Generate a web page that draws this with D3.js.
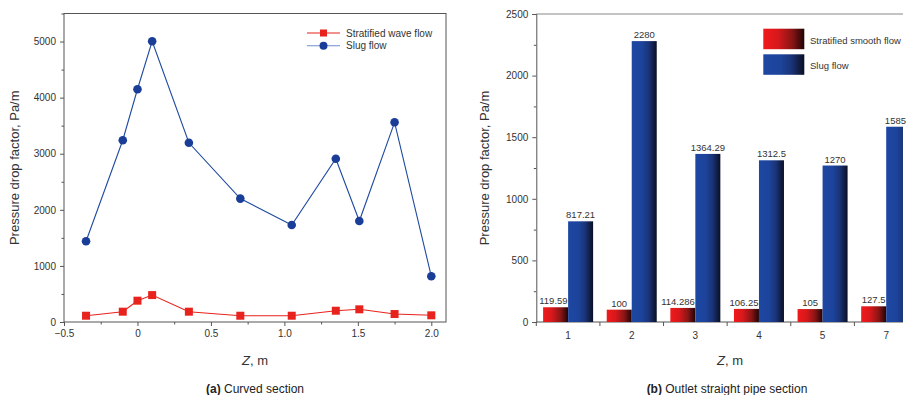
<!DOCTYPE html>
<html>
<head>
<meta charset="utf-8">
<script src="https://cdn.jsdelivr.net/npm/d3@7/dist/d3.min.js"></script>
<style>
  html, body { margin: 0; padding: 0; background: #fff; }
  svg { display: block; font-family: "Liberation Sans", Arial, sans-serif; }
</style>
</head>
<body>
<svg id="fig" width="907" height="395"></svg>
<script>
// (a) Curved section — pressure drop factor along Z
const zCurved = [-0.35, -0.1, 0.0, 0.1, 0.35, 0.7, 1.05, 1.35, 1.51, 1.75, 2.0];
const stratifiedWave = [112, 184, 380, 480, 184, 112, 112, 201, 226, 142, 119];
const slugCurved = [1440, 3240, 4150, 5005, 3195, 2200, 1730, 2910, 1800, 3560, 815];
const curvedXTicks = [-0.5, 0, 0.5, 1.0, 1.5, 2.0];
const curvedXTickLabels = ["\u22120.5", "0", "0.5", "1.0", "1.5", "2.0"];
const curvedYTicks = [0, 1000, 2000, 3000, 4000, 5000];

// (b) Outlet straight pipe section — grouped bars
const outletZ = ["1", "2", "3", "4", "5", "7"];
const stratifiedSmooth = [119.59, 100, 114.286, 106.25, 105, 127.5];
const slugOutlet = [817.21, 2280, 1364.29, 1312.5, 1270, 1585];
const outletYTicks = [0, 500, 1000, 1500, 2000, 2500];

const svg = d3.select("#fig");
const textColor = "#333";
const axisColor = "#555";
const red = "#e8231e";
const blue = "#1f4aa0";

const defs = svg.append("defs");
function hGradient(id, stops) {
  const g = defs.append("linearGradient").attr("id", id)
    .attr("x1", "0%").attr("x2", "100%").attr("y1", "0%").attr("y2", "0%");
  stops.forEach(s => g.append("stop").attr("offset", s[0]).attr("stop-color", s[1]));
}
hGradient("gradRed", [["0%", "#f01a1c"], ["35%", "#d8181b"], ["70%", "#8a1515"], ["100%", "#200405"]]);
hGradient("gradBlue", [["0%", "#1d47a2"], ["40%", "#1d449c"], ["68%", "#1a3478"], ["100%", "#0a0f24"]]);
defs.append("clipPath").attr("id", "clipRight")
  .append("rect").attr("x", 0).attr("y", 0).attr("width", 903).attr("height", 395);

function styleAxis(g) {
  g.selectAll("path, line").attr("stroke", axisColor).attr("stroke-width", 1);
  g.selectAll("text").attr("fill", textColor).attr("font-size", "10px")
    .attr("font-family", "'Liberation Sans', Arial, sans-serif");
}

// ---------- Panel (a) ----------
{
  const L = 64, R = 446, T = 13.5, B = 322;
  const x = d3.scaleLinear().domain([-0.5, 2.1]).range([L, R]);
  const y = d3.scaleLinear().domain([0, 5500]).range([B, T]);
  const g = svg.append("g");

  // frame
  g.append("rect").attr("x", L).attr("y", T).attr("width", R - L).attr("height", B - T)
    .attr("fill", "none").attr("stroke", axisColor).attr("stroke-width", 1);

  // minor ticks
  const xAxisMinor = d3.axisBottom(x).tickValues(d3.range(-0.25, 2.1, 0.5)).tickSize(2.5).tickFormat("");
  const yAxisMinor = d3.axisLeft(y).tickValues(d3.range(500, 5600, 1000)).tickSize(2.5).tickFormat("");
  g.append("g").attr("transform", `translate(0,${B})`).call(xAxisMinor).call(styleAxis).select(".domain").remove();
  g.append("g").attr("transform", `translate(${L},0)`).call(yAxisMinor).call(styleAxis).select(".domain").remove();

  const xAxis = d3.axisBottom(x).tickValues(curvedXTicks).tickSize(4).tickPadding(4)
    .tickFormat((d, i) => curvedXTickLabels[i]);
  const yAxis = d3.axisLeft(y).tickValues(curvedYTicks).tickSize(4).tickPadding(4).tickFormat(d3.format("d"));
  g.append("g").attr("transform", `translate(0,${B})`).call(xAxis).call(styleAxis).select(".domain").remove();
  g.append("g").attr("transform", `translate(${L},0)`).call(yAxis).call(styleAxis).select(".domain").remove();

  const line = d3.line().x(d => x(d[0])).y(d => y(d[1]));
  const slugPts = zCurved.map((z, i) => [z, slugCurved[i]]);
  const stratPts = zCurved.map((z, i) => [z, stratifiedWave[i]]);

  g.append("path").datum(slugPts).attr("d", line).attr("fill", "none").attr("stroke", blue).attr("stroke-width", 1.1);
  g.selectAll(".slugDot").data(slugPts).enter().append("circle")
    .attr("cx", d => x(d[0])).attr("cy", d => y(d[1])).attr("r", 4.3).attr("fill", "#1a3e98");

  g.append("path").datum(stratPts).attr("d", line).attr("fill", "none").attr("stroke", red).attr("stroke-width", 1.1);
  g.selectAll(".stratDot").data(stratPts).enter().append("rect")
    .attr("x", d => x(d[0]) - 4).attr("y", d => y(d[1]) - 4).attr("width", 8).attr("height", 8).attr("fill", red);

  // legend
  const lg = g.append("g");
  lg.append("line").attr("x1", 307).attr("x2", 340).attr("y1", 33).attr("y2", 33).attr("stroke", red).attr("stroke-width", 1.1);
  lg.append("rect").attr("x", 323.5 - 3.5).attr("y", 33 - 3.5).attr("width", 7).attr("height", 7).attr("fill", red);
  lg.append("text").attr("x", 346).attr("y", 36.5).attr("font-size", "10px").attr("fill", textColor).text("Stratified wave flow");
  lg.append("line").attr("x1", 307).attr("x2", 340).attr("y1", 45.7).attr("y2", 45.7).attr("stroke", "#6f8fd0").attr("stroke-width", 1.1);
  lg.append("circle").attr("cx", 323.5).attr("cy", 45.7).attr("r", 4).attr("fill", "#1a3e98");
  lg.append("text").attr("x", 346).attr("y", 49.2).attr("font-size", "10px").attr("fill", textColor).text("Slug flow");

  // axis titles
  g.append("text").attr("transform", `translate(19,${(T + B) / 2}) rotate(-90)`)
    .attr("text-anchor", "middle").attr("font-size", "13px").attr("fill", textColor)
    .text("Pressure drop factor, Pa/m");
  const xt = g.append("text").attr("x", (L + R) / 2).attr("y", 365).attr("text-anchor", "middle")
    .attr("font-size", "13px").attr("fill", textColor);
  xt.append("tspan").attr("font-style", "italic").text("Z");
  xt.append("tspan").text(", m");
  const cap = g.append("text").attr("x", 255).attr("y", 393).attr("text-anchor", "middle")
    .attr("font-size", "12px").attr("fill", "#222");
  cap.append("tspan").attr("font-weight", "bold").text("(a)");
  cap.append("tspan").text(" Curved section");
}

// ---------- Panel (b) ----------
{
  const L = 536.3, T = 14, B = 322, R = 918;
  const x0 = d3.scaleBand().domain(outletZ).range([L, R]).paddingInner(0.214).paddingOuter(0.107);
  const x1 = d3.scaleBand().domain(["strat", "slug"]).range([0, x0.bandwidth()]);
  const y = d3.scaleLinear().domain([0, 2500]).range([B, T]);
  const g = svg.append("g").attr("clip-path", "url(#clipRight)");

  // top frame line
  g.append("line").attr("x1", L).attr("x2", R).attr("y1", T).attr("y2", T).attr("stroke", "#888").attr("stroke-width", 1);

  const yMinor = d3.axisLeft(y).tickValues(d3.range(250, 2500, 500)).tickSize(2.5).tickFormat("");
  g.append("g").attr("transform", `translate(${L},0)`).call(yMinor).call(styleAxis).select(".domain").remove();
  const yAxis = d3.axisLeft(y).tickValues(outletYTicks).tickSize(4).tickPadding(4).tickFormat(d3.format("d"));
  g.append("g").attr("transform", `translate(${L},0)`).call(yAxis).call(styleAxis);

  // category boundary ticks
  const step = x0.step();
  const boundaries = d3.range(0, outletZ.length + 1).map(i => L + i * step);
  g.selectAll(".bTick").data(boundaries).enter().append("line")
    .attr("x1", d => d).attr("x2", d => d).attr("y1", B).attr("y2", B + 4)
    .attr("stroke", axisColor);
  g.append("line").attr("x1", L).attr("x2", R).attr("y1", B).attr("y2", B).attr("stroke", axisColor);
  g.selectAll(".catLabel").data(outletZ).enter().append("text")
    .attr("x", d => x0(d) + x0.bandwidth() / 2).attr("y", B + 17).attr("text-anchor", "middle")
    .attr("font-size", "10px").attr("fill", textColor).text(d => d);

  const rows = outletZ.map((z, i) => ({ z, strat: stratifiedSmooth[i], slug: slugOutlet[i] }));
  const series = [["strat", "url(#gradRed)"], ["slug", "url(#gradBlue)"]];

  // bars (clipped at the panel edge)
  const barGrp = g.selectAll(".grp").data(rows).enter().append("g")
    .attr("transform", d => `translate(${x0(d.z)},0)`);
  series.forEach(([key, fill]) => {
    barGrp.append("rect")
      .attr("x", x1(key)).attr("width", x1.bandwidth())
      .attr("y", d => y(d[key])).attr("height", d => B - y(d[key]))
      .attr("fill", fill);
  });

  // value labels above bars; a label stays clear of the next bar and the page edge
  const labelGrp = svg.append("g");
  series.forEach(([key]) => {
    labelGrp.selectAll(".lbl-" + key).data(rows).enter().append("text")
      .attr("font-size", "9.5px").attr("fill", textColor).attr("text-anchor", "middle")
      .attr("y", d => y(d[key]) - 3)
      .text(d => d[key])
      .each(function (d) {
        const left = x0(d.z) + x1(key);
        const cx = left + x1.bandwidth() / 2;
        const w = this.getComputedTextLength();
        const maxRight = key === "strat" ? left + x1.bandwidth() - 0.5 : 906;
        d3.select(this).attr("x", Math.min(cx, maxRight - w / 2));
      });
  });

  // legend
  const lg = g.append("g");
  lg.append("rect").attr("x", 763.3).attr("y", 28.7).attr("width", 41).attr("height", 20.5).attr("fill", "url(#gradRed)");
  lg.append("text").attr("x", 810).attr("y", 43.5).attr("font-size", "9.5px").attr("fill", textColor).text("Stratified smooth flow");
  lg.append("rect").attr("x", 763.3).attr("y", 54.3).attr("width", 41).attr("height", 20.5).attr("fill", "url(#gradBlue)");
  lg.append("text").attr("x", 810).attr("y", 68.8).attr("font-size", "9.5px").attr("fill", textColor).text("Slug flow");

  // axis titles
  svg.append("text").attr("transform", `translate(489,${(T + B) / 2}) rotate(-90)`)
    .attr("text-anchor", "middle").attr("font-size", "13px").attr("fill", textColor)
    .text("Pressure drop factor, Pa/m");
  const xt = svg.append("text").attr("x", 730).attr("y", 365).attr("text-anchor", "middle")
    .attr("font-size", "13px").attr("fill", textColor);
  xt.append("tspan").attr("font-style", "italic").text("Z");
  xt.append("tspan").text(", m");
  const cap = svg.append("text").attr("x", 727).attr("y", 393).attr("text-anchor", "middle")
    .attr("font-size", "12px").attr("fill", "#222");
  cap.append("tspan").attr("font-weight", "bold").text("(b)");
  cap.append("tspan").text(" Outlet straight pipe section");
}
</script>
</body>
</html>
